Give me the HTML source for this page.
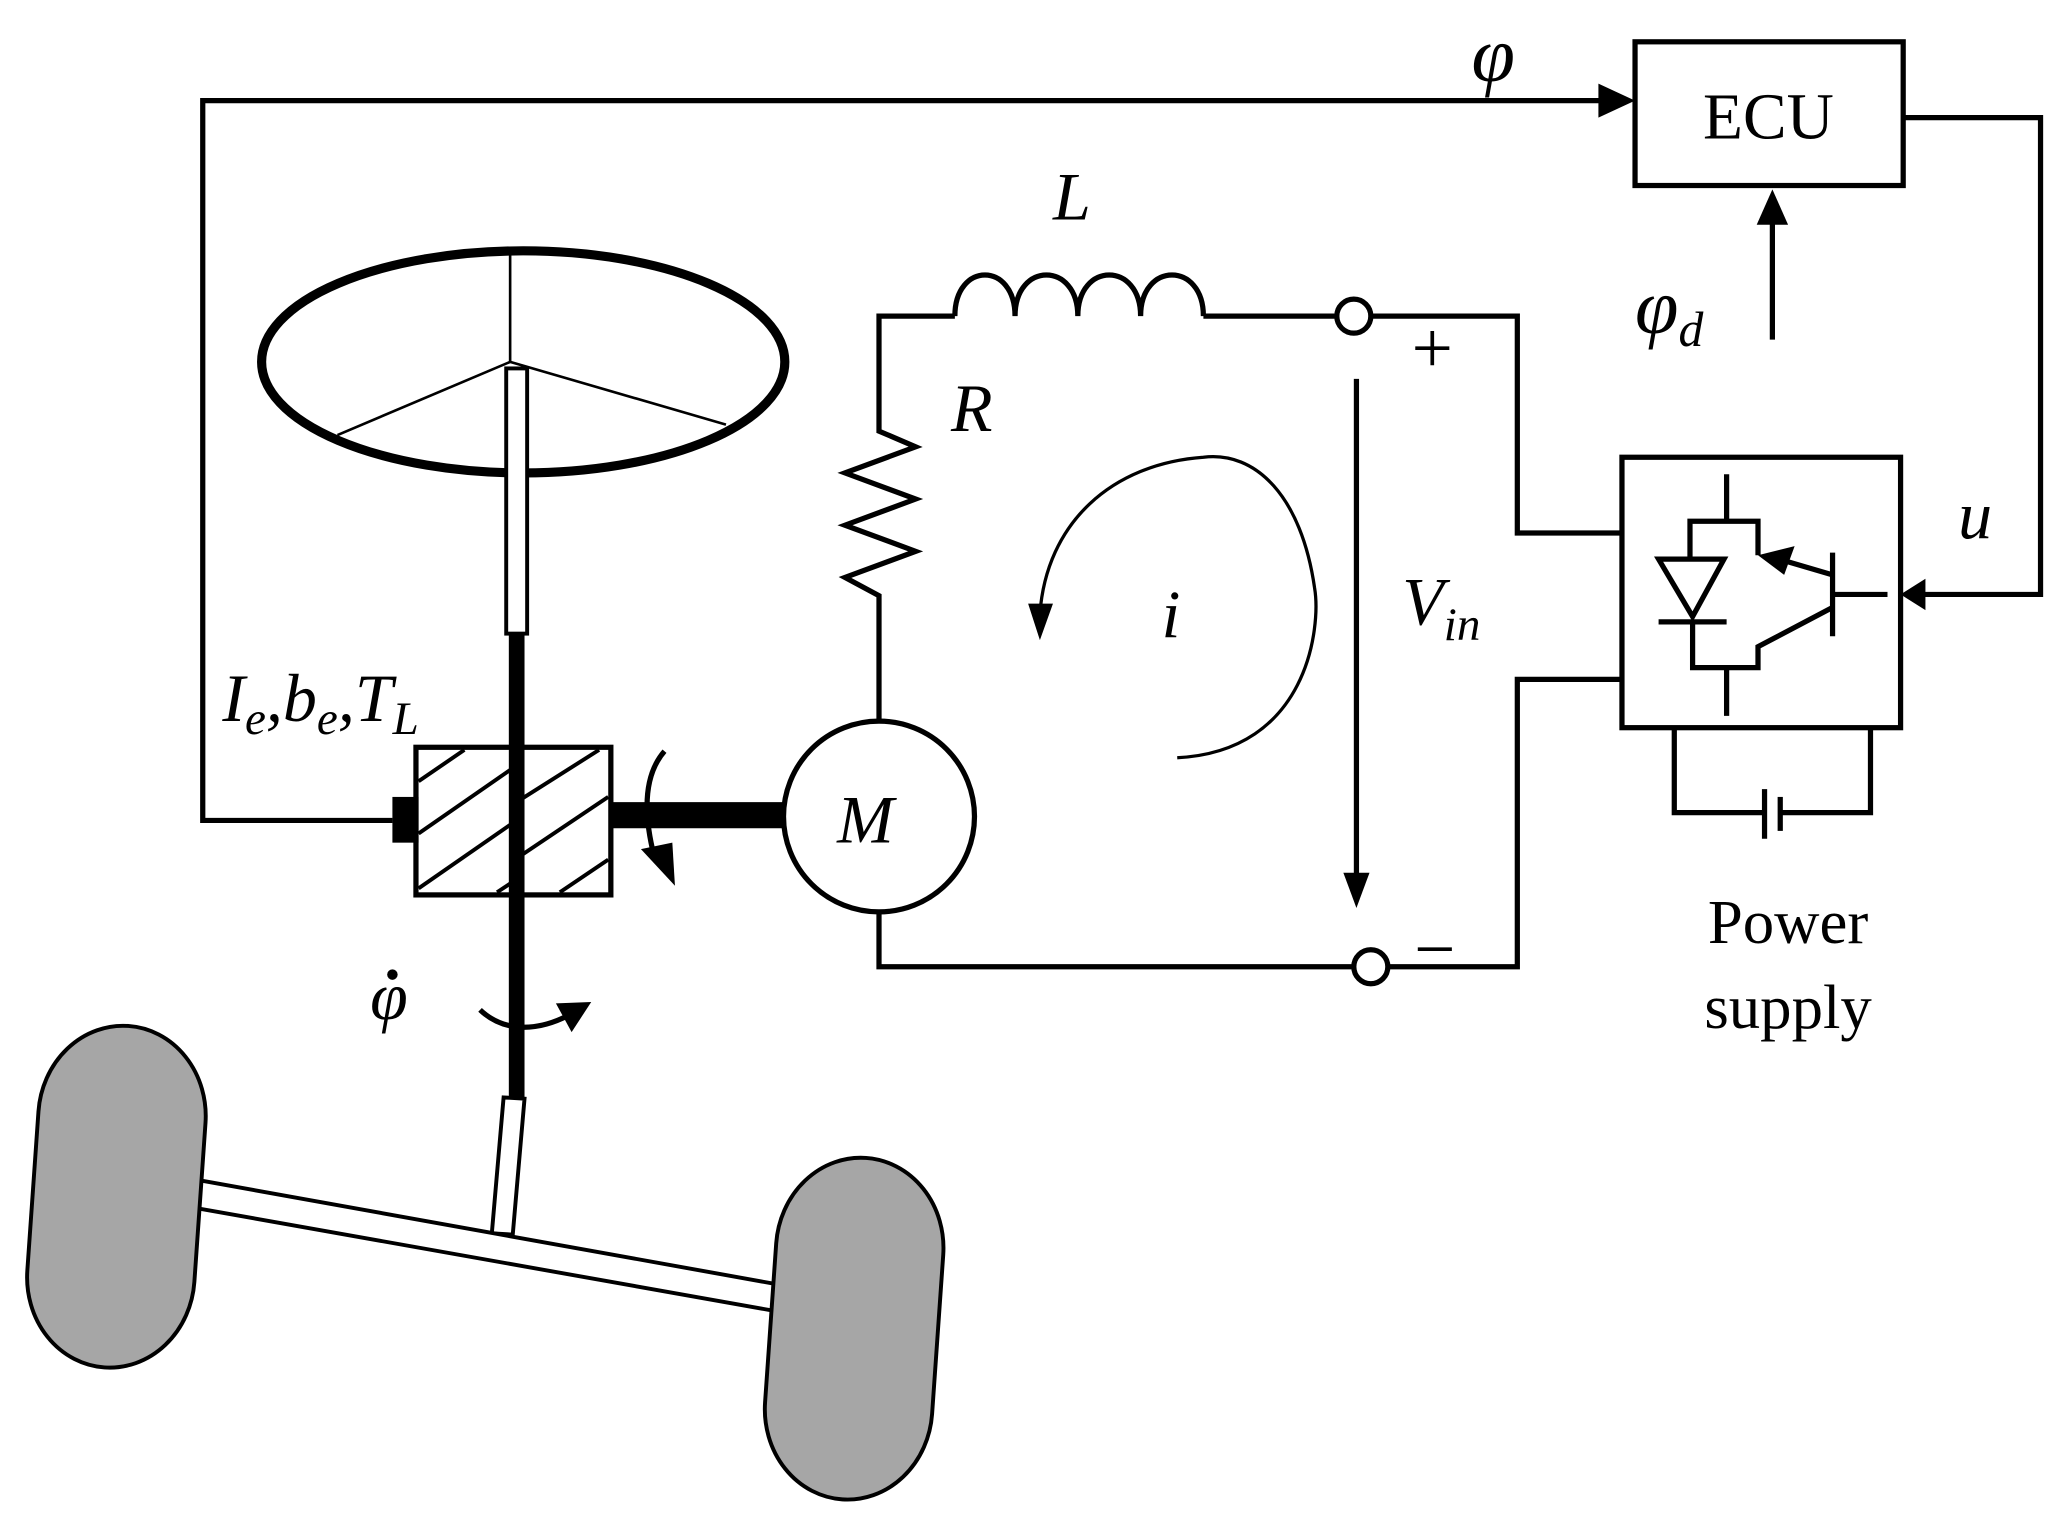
<!DOCTYPE html>
<html><head><style>html,body{margin:0;padding:0;background:#fff}svg{display:block}</style></head>
<body>
<svg width="2051" height="1522" viewBox="0 0 1568 1165" preserveAspectRatio="none" xmlns="http://www.w3.org/2000/svg" font-family="Liberation Serif, serif">
<g fill="none" stroke="#000" stroke-width="4">
<polyline points="300,628 155,628 155,77 1225,77"/>
<path d="M1222,64 L1250,77 L1222,90 z" fill="#000" stroke="none"/>
<rect x="1250" y="32" width="205" height="110"/>
<polyline points="1455,90 1560,90 1560,455 1470,455"/>
<path d="M1472,443 L1453,455 L1472,467 z" fill="#000" stroke="none"/>
<line x1="1355" y1="260" x2="1355" y2="170"/>
<path d="M1343,172 L1355,145 L1367,172 z" fill="#000" stroke="none"/>
<rect x="1240" y="350" width="213" height="207"/>
<polyline points="1320,363 1320,399"/>
<polyline points="1292,428 1292,399 1344,399 1344,425"/>
<path d="M1268,428 L1318,428 L1294,472 z"/>
<line x1="1268" y1="476" x2="1320" y2="476"/>
<polyline points="1294,476 1294,511 1344,511 1344,495 1401,465"/>
<line x1="1320" y1="511" x2="1320" y2="548"/>
<line x1="1401" y1="423" x2="1401" y2="487"/>
<line x1="1401" y1="455" x2="1443" y2="455"/>
<line x1="1401" y1="440" x2="1360" y2="428"/>
<path d="M1344,425 L1372,418 L1364,440 z" fill="#000" stroke="none"/>
<polyline points="1280,557 1280,622 1349,622"/>
<polyline points="1361,622 1430,622 1430,557"/>
<line x1="1349" y1="604" x2="1349" y2="642"/>
<line x1="1361" y1="610" x2="1361" y2="636"/>
<polyline points="1240,408 1160,408 1160,242 1048,242"/>
<polyline points="1240,520 1160,520 1160,740 1062,740"/>
<circle cx="1035" cy="242" r="13"/>
<circle cx="1048" cy="740" r="13"/>
<polyline points="1022,242 920,242"/>
<path d="M920,242 C920,200 872,200 872,242 C872,200 824,200 824,242 C824,200 776,200 776,242 C776,200 730,200 730,242"/>
<polyline points="730,242 672,242 672,330 700,342 646,362 700,382 646,402 700,422 646,442 672,456 672,552"/>
<polyline points="1035,740 672,740 672,698"/>
<circle cx="672" cy="625" r="73"/>
<line x1="1037" y1="290" x2="1037" y2="670"/>
<path d="M1027,668 L1037,695 L1047,668 z" fill="#000" stroke="none"/>
<path d="M900,580 C1000,575 1010,480 1005,450 C995,380 960,345 920,350 C850,355 800,400 795,470" stroke-width="2.5"/>
<path d="M786,462 L795,490 L805,462 z" fill="#000" stroke="none"/>
<ellipse cx="400" cy="277" rx="200" ry="85" stroke-width="7"/>
<line x1="390" y1="192" x2="390" y2="277" stroke-width="2"/>
<line x1="390" y1="277" x2="258" y2="333" stroke-width="2"/>
<line x1="390" y1="277" x2="555" y2="325" stroke-width="2"/>
<rect x="387" y="282" width="16" height="203" fill="#fff" stroke-width="3"/>
<rect x="318" y="572" width="149" height="113" fill="#fff"/>
<g stroke-width="3">
<line x1="320" y1="598" x2="355" y2="574"/>
<line x1="320" y1="638" x2="392" y2="588"/>
<line x1="320" y1="680" x2="392" y2="630"/>
<line x1="380" y1="683" x2="392" y2="675"/>
<line x1="398" y1="612" x2="458" y2="574"/>
<line x1="398" y1="655" x2="465" y2="610"/>
<line x1="428" y1="683" x2="465" y2="658"/>
</g>
<line x1="395" y1="485" x2="395" y2="840" stroke-width="12"/>
<rect x="302" y="612" width="16" height="31" fill="#000"/>
<line x1="467" y1="624" x2="600" y2="624" stroke-width="20"/>
<path d="M508,575 C495,590 490,615 500,655" stroke-width="4"/>
<path d="M490,650 L516,678 L514,645 z" fill="#000" stroke="none"/>
<path d="M367,773 C385,790 410,790 435,777" stroke-width="4"/>
<path d="M425,768 L452,767 L437,790 z" fill="#000" stroke="none"/>
<path d="M385,840 L401,841 L392,945 L376,944 z" fill="#fff" stroke-width="3"/>
<path d="M150,903 L605,985 L601,1005 L146,924 z" fill="#fff" stroke-width="3"/>
<g fill="#a6a6a6" stroke-width="3">
<rect x="25" y="785" width="128" height="262" rx="64" ry="70" transform="rotate(4 89 916)"/>
<rect x="589" y="886" width="128" height="262" rx="64" ry="70" transform="rotate(4 653 1017)"/>
</g>
</g>
<g fill="#000" font-style="italic">
<text x="1125" y="62" font-size="60">φ</text>
<text x="805" y="168" font-size="52">L</text>
<text x="727" y="330" font-size="52">R</text>
<text x="888" y="488" font-size="52">i</text>
<text x="1072" y="478" font-size="52">V<tspan font-size="36" dy="12">in</tspan></text>
<text x="1250" y="255" font-size="60">φ<tspan font-size="38" dy="10">d</tspan></text>
<text x="1497" y="412" font-size="52">u</text>
<text x="640" y="645" font-size="52">M</text>
<text x="170" y="552" font-size="52">I<tspan font-size="36" dy="10">e</tspan><tspan dy="-10">,b</tspan><tspan font-size="36" dy="10">e</tspan><tspan dy="-10">,T</tspan><tspan font-size="36" dy="10">L</tspan></text>
<text x="283" y="780" font-size="52">φ</text>
</g>
<circle cx="300" cy="746" r="4" fill="#000"/>
<g fill="#000">
<text x="1352" y="106" text-anchor="middle" font-size="50">ECU</text>
<text x="1367" y="722" text-anchor="middle" font-size="48">Power</text>
<text x="1367" y="787" text-anchor="middle" font-size="48">supply</text>
<text x="1095" y="285" text-anchor="middle" font-size="56">+</text>
<text x="1097" y="745" text-anchor="middle" font-size="56">−</text>
</g>
</svg>
</body></html>
